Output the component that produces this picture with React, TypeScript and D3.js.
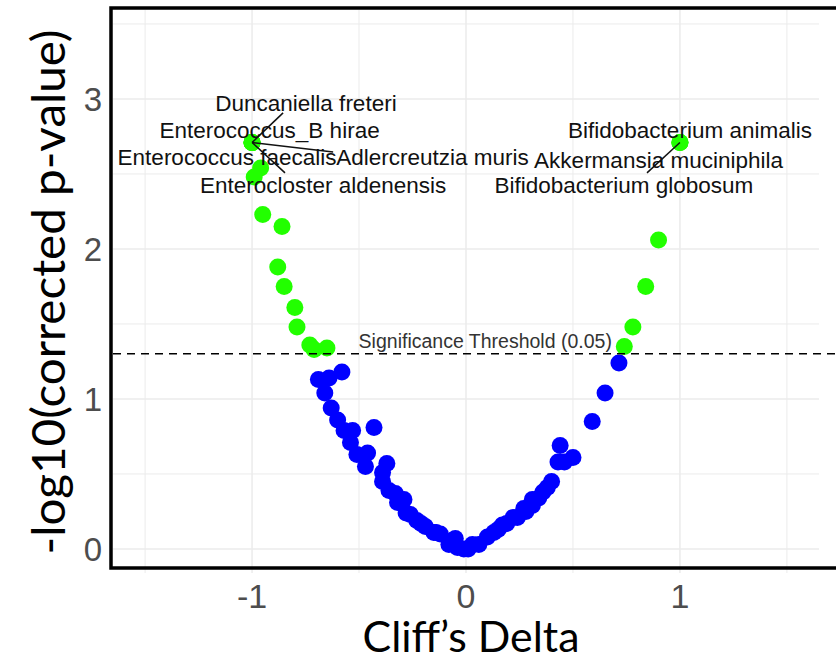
import React from "react";
import * as d3 from "d3";

// ---- data (Cliff's delta vs -log10 corrected p) ----
const cliffDelta = [
  // labelled / top points
  -1.0, -1.0, -1.0, -1.0, -1.0, 1.0, 1.0, 1.0,
  // left significant
  -0.96, -0.99, -0.95, -0.86, -0.88, -0.85, -0.8, -0.79, -0.73, -0.71, -0.65,
  // right significant
  0.9, 0.84, 0.78, 0.74,
  // non significant
  -0.58, -0.69, -0.64, -0.66, -0.63, -0.6, -0.57, -0.53, -0.43, -0.54, -0.51, -0.46, -0.47,
  -0.37, -0.39, -0.39, -0.36, -0.33, -0.29, -0.32, -0.28, -0.26, -0.23, -0.21, -0.19, -0.15,
  -0.14, -0.12, -0.06, -0.05, -0.08, -0.04, -0.01, 0.01, 0.03, 0.06, 0.1, 0.13, 0.15, 0.17,
  0.19, 0.22, 0.24, 0.27, 0.28, 0.31, 0.31, 0.34, 0.36, 0.38, 0.4, 0.43, 0.44, 0.5, 0.46,
  0.59, 0.65, 0.715,
];
const negLogP = [
  2.71, 2.71, 2.71, 2.71, 2.71, 2.71, 2.71, 2.71,
  2.54, 2.48, 2.23, 2.15, 1.88, 1.75, 1.61, 1.48, 1.36, 1.33, 1.34,
  2.06, 1.75, 1.48, 1.35,
  1.18, 1.13, 1.14, 1.04, 0.94, 0.86, 0.79, 0.79, 0.81, 0.71, 0.63, 0.64, 0.55,
  0.57, 0.51, 0.45, 0.39, 0.37, 0.33, 0.31, 0.24, 0.23, 0.19, 0.17, 0.15, 0.11,
  0.11, 0.1, 0.06, 0.07, 0.03, 0.01, 0.0, 0.0, 0.03, 0.03, 0.08, 0.11, 0.13, 0.16,
  0.17, 0.21, 0.21, 0.27, 0.25, 0.29, 0.33, 0.34, 0.38, 0.41, 0.45, 0.58, 0.69, 0.61, 0.58,
  0.85, 1.04, 1.24,
];

// labelled taxa: point, label centre, segment end (NaN = no segment)
const labelNames = [
  "Duncaniella freteri",
  "Enterococcus_B hirae",
  "Enterococcus faecalis",
  "Adlercreutzia muris",
  "Enterocloster aldenensis",
  "Bifidobacterium animalis",
  "Akkermansia muciniphila",
  "Bifidobacterium globosum",
];
const labelPointX = [-1.0, -1.0, -1.0, -1.0, -1.0, 1.0, 1.0, 1.0];
const labelPointY = [2.71, 2.71, 2.71, 2.71, 2.71, 2.71, 2.71, 2.71];
const labelTextX = [-0.748, -0.918, -1.117, -0.157, -0.668, 1.047, 0.9, 0.738];
const labelTextY = [2.973, 2.793, 2.607, 2.613, 2.42, 2.793, 2.593, 2.42];
const segEndX = [-0.855, NaN, NaN, -0.621, -0.846, NaN, NaN, 0.846];
const segEndY = [2.907, NaN, NaN, 2.647, 2.507, NaN, NaN, 2.507];

const xTicks = [-1, 0, 1];
const xMinor = [-1.5, -0.5, 0.5, 1.5];
const yTicks = [0, 1, 2, 3];
const yMinor = [0.5, 1.5, 2.5, 3.5];
const pThreshold = 0.05;
const thresholdLabel = "Significance Threshold (0.05)";
const thresholdLabelX = 0.09;

export default function App() {
  const W = 836;
  const H = 662;
  const panel = { left: 113, right: 819, top: 10, bottom: 565 };
  const x = d3.scaleLinear().domain([-1.65, 1.65]).range([panel.left, panel.right]);
  const y = d3.scaleLinear().domain([-0.107, 3.593]).range([panel.bottom, panel.top]);
  const thr = -Math.log10(pThreshold);

  const pts = cliffDelta.map((d, i) => ({ d, p: negLogP[i] }));
  const grid = "#ebebeb";
  const arial = "'Liberation Sans', Arial, sans-serif";
  const titleFont = "Lato, 'Open Sans', sans-serif";

  return (
    <svg
      width={W}
      height={H}
      style={{ position: "absolute", left: 0, top: 0, background: "#fff" }}
    >
      {/* grid */}
      {xMinor.map((v) => (
        <line key={"xm" + v} x1={x(v)} x2={x(v)} y1={panel.top} y2={panel.bottom + 8} stroke={grid} strokeWidth={1} />
      ))}
      {xTicks.map((v) => (
        <line key={"xt" + v} x1={x(v)} x2={x(v)} y1={panel.top} y2={panel.bottom + 8} stroke={grid} strokeWidth={1.5} />
      ))}
      {yMinor.map((v) => (
        <line key={"ym" + v} x1={panel.left} x2={panel.right} y1={y(v)} y2={y(v)} stroke={grid} strokeWidth={1} />
      ))}
      {yTicks.map((v) => (
        <line key={"yt" + v} x1={panel.left} x2={panel.right} y1={y(v)} y2={y(v)} stroke={grid} strokeWidth={1.5} />
      ))}

      {/* points */}
      {pts.map((pt, i) => (
        <circle
          key={i}
          cx={x(pt.d)}
          cy={y(pt.p)}
          r={8.5}
          fill={pt.p > thr ? "#22ff00" : "#0000ff"}
        />
      ))}

      {/* threshold */}
      <line
        x1={panel.left}
        x2={W}
        y1={y(thr)}
        y2={y(thr)}
        stroke="#000"
        strokeWidth={1.5}
        strokeDasharray="8,6"
      />
      <text
        x={x(thresholdLabelX)}
        y={y(thr) - 6}
        textAnchor="middle"
        fontFamily={arial}
        fontSize={19.5}
        fill="#333"
      >
        {thresholdLabel}
      </text>

      {/* label segments */}
      {labelNames.map((n, i) =>
        isNaN(segEndX[i]) ? null : (
          <line
            key={"s" + n}
            x1={x(labelPointX[i])}
            y1={y(labelPointY[i])}
            x2={x(segEndX[i])}
            y2={y(segEndY[i])}
            stroke="#111"
            strokeWidth={1.5}
          />
        )
      )}
      {labelNames.map((n, i) => (
        <text
          key={"l" + n}
          x={x(labelTextX[i])}
          y={y(labelTextY[i])}
          textAnchor="middle"
          dominantBaseline="central"
          fontFamily={arial}
          fontSize={22.5}
          fill="#111"
        >
          {n}
        </text>
      ))}

      {/* frame */}
      <rect
        x={111}
        y={8}
        width={740}
        height={560}
        fill="none"
        stroke="#000"
        strokeWidth={3.5}
      />

      {/* tick labels */}
      {yTicks.map((v) => (
        <text
          key={"yl" + v}
          x={102}
          y={y(v) + 12}
          textAnchor="end"
          fontFamily={arial}
          fontSize={33}
          fill="#4d4d4d"
        >
          {v}
        </text>
      ))}
      {xTicks.map((v) => (
        <text
          key={"xl" + v}
          x={x(v)}
          y={608}
          textAnchor="middle"
          fontFamily={arial}
          fontSize={34}
          fill="#4d4d4d"
        >
          {v}
        </text>
      ))}

      {/* axis titles */}
      <text
        x={471}
        y={652}
        textAnchor="middle"
        fontFamily={titleFont}
        fontSize={42}
        fill="#000"
        textLength={217}
        lengthAdjust="spacingAndGlyphs"
      >
        Cliff’s Delta
      </text>
      <text
        transform={`translate(65, ${292}) rotate(-90)`}
        textAnchor="middle"
        fontFamily={titleFont}
        fontSize={46}
        fill="#000"
        textLength={525}
        lengthAdjust="spacingAndGlyphs"
      >
        -log10(corrected p-value)
      </text>
    </svg>
  );
}
